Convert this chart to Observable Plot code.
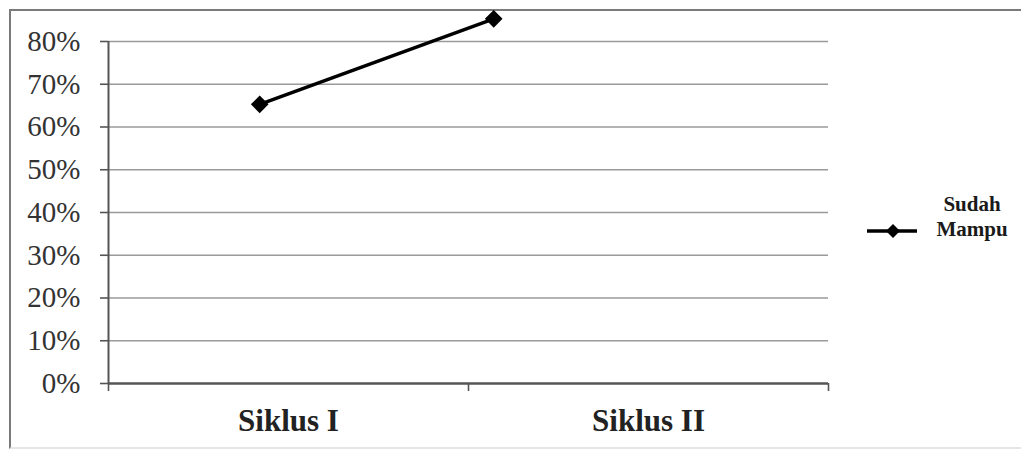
<!DOCTYPE html>
<html>
<head>
<meta charset="utf-8">
<script src="https://cdn.jsdelivr.net/npm/d3@7"></script>
<script src="https://cdn.jsdelivr.net/npm/@observablehq/plot@0.6"></script>
<style>
  html, body { margin: 0; padding: 0; background: #fff; }
  #wrap { position: relative; width: 1021px; height: 450px; overflow: hidden; font-family: "Liberation Serif", "Times New Roman", serif; }
  #frame { position: absolute; left: 9px; top: 9px; width: 1100px; height: 436px; border-top: 2px solid #7a7a7a; border-left: 2px solid #7a7a7a; border-bottom: 2px solid #e6e6e6; }
  #chart { position: absolute; left: 0; top: 0; }
  #legendKey { position: absolute; left: 864px; top: 221px; }
  #legendTxt { position: absolute; left: 922px; top: 192px; width: 100px; font-weight: bold; font-size: 21px; line-height: 25px; text-align: center; color: #1a1a1a; }
</style>
</head>
<body>
<div id="wrap">
  <div id="frame"></div>
  <div id="chart"></div>
  <div id="legendKey"></div>
  <div id="legendTxt"></div>
</div>
<script>
// ---- data ----
const categories = ["Siklus I", "Siklus II"];
const seriesName = "Sudah Mampu";
const sudahMampu = [65.3, 85.3];          // percent
const pointAt = [0.42, 1.07];             // horizontal place of each point along the category axis (category units), as drawn
const yTicks = [0, 10, 20, 30, 40, 50, 60, 70, 80];
const xBoundaries = [0, 1, 2];

const points = categories.map((c, i) => ({cat: c, pos: pointAt[i], value: sudahMampu[i]}));
const labels = categories.map((c, i) => ({cat: c, pos: i + 0.5}));

const chart = Plot.plot({
  width: 1021,
  height: 450,
  marginLeft: 108,
  marginRight: 193,
  marginTop: 41,
  marginBottom: 67,
  style: { fontFamily: "Liberation Serif, Times New Roman, serif", background: "transparent", overflow: "visible" },
  x: { type: "linear", domain: [0, 2] },
  y: { domain: [0, 80] },
  marks: [
    Plot.gridY(yTicks.filter(d => d > 0), { stroke: "#9a9a9a", strokeOpacity: 1, strokeWidth: 1.6 }),
    Plot.axisY({ ticks: yTicks, tickFormat: d => d + "%", tickSize: 8, tickPadding: 20, fontSize: 29, fontFamily: "Liberation Serif", stroke: "#555", strokeWidth: 1.6, color: "#333", label: null }),
    Plot.axisX({ ticks: xBoundaries, tickSize: 8, tickFormat: () => "", stroke: "#555", strokeWidth: 1.6, label: null }),
    Plot.ruleX([0], { y1: 0, y2: 80, stroke: "#555", strokeWidth: 2 }),
    Plot.ruleY([0], { stroke: "#555", strokeWidth: 2.4 }),
    Plot.text(labels, { x: "pos", y: () => 0, text: "cat", dy: 38, fontSize: 31, fontWeight: "bold", fontFamily: "Liberation Serif", fill: "#222" }),
    Plot.line(points, { x: "pos", y: "value", stroke: "#000", strokeWidth: 3.5 }),
    Plot.dot(points, { x: "pos", y: "value", symbol: "diamond2", r: 7, fill: "#000", stroke: "#000" })
  ]
});
document.getElementById("chart").appendChild(chart);

// legend
document.getElementById("legendKey").innerHTML =
  '<svg width="56" height="20" viewBox="0 0 56 20">' +
  '<line x1="3" y1="10" x2="53" y2="10" stroke="#000" stroke-width="3.5"/>' +
  '<path d="M29 3 L36 10 L29 17 L22 10 Z" fill="#000"/>' +
  '</svg>';
document.getElementById("legendTxt").innerHTML = seriesName.split(" ").join("<br>");
</script>
</body>
</html>
